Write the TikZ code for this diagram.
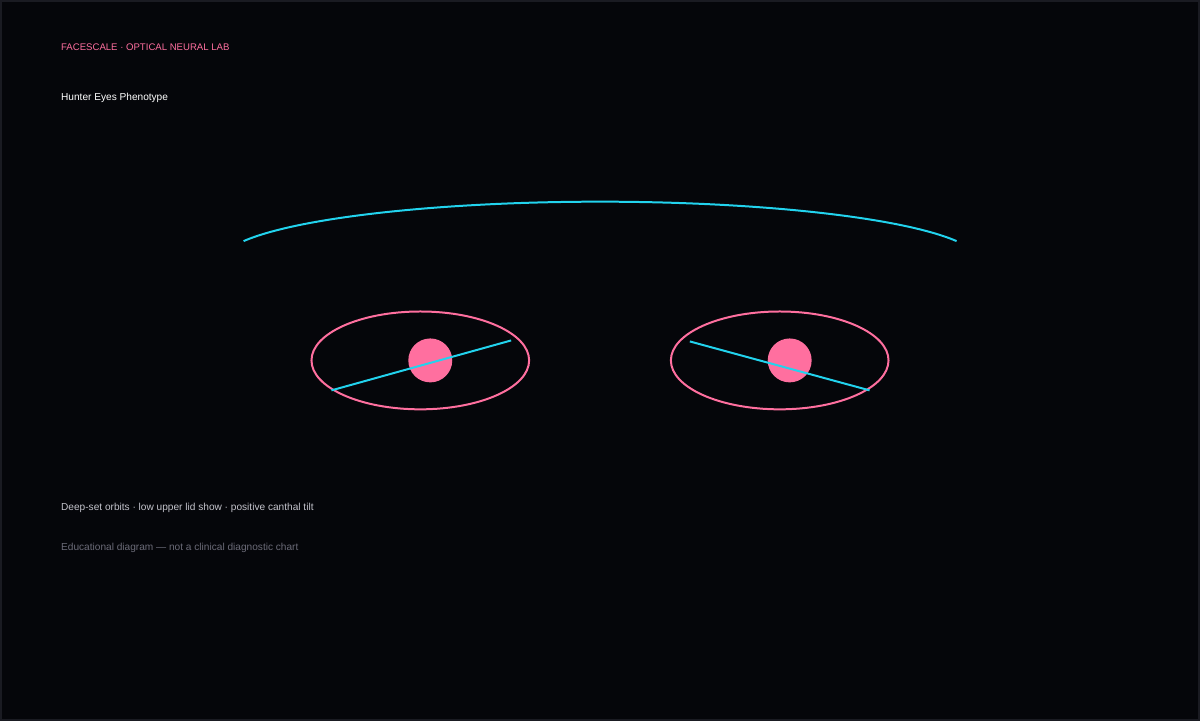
\documentclass[tikz,border=0pt]{standalone}
\usepackage{fontspec}
\setmainfont{Liberation Sans}
\definecolor{bgdark}{HTML}{05060A}
\definecolor{edgegray}{HTML}{1A1B22}
\definecolor{lidpink}{HTML}{FF6F9F}
\definecolor{tiltcyan}{HTML}{22D3EE}
\definecolor{softgray}{HTML}{C4C4CC}
\definecolor{dimgray}{HTML}{6B6B78}
\tikzset{
  caption/.style={anchor=base west, inner sep=0pt, font=\fontsize{7.6pt}{9pt}\selectfont},
  orbit/.style={draw=lidpink, line width=1.5pt},
  iris/.style={fill=lidpink, draw=none},
  tilt/.style={draw=tiltcyan, line width=1.5pt},
}
\begin{document}
\begin{tikzpicture}[x=0.75pt, y=-0.75pt]
\path[fill=bgdark, draw=edgegray, line width=1.5pt] (0,0) rectangle (1200,720);
\useasboundingbox (0,0) rectangle (1200,720);

% header
\node[caption, text=lidpink, font=\fontsize{7.2pt}{9pt}\selectfont] (lab) at (60,50) {FACESCALE · OPTICAL NEURAL LAB};
\node[caption, text=white] (title) at (60,100) {Hunter Eyes Phenotype};

% brow ridge
\coordinate (browL) at (243,240.5);
\path[tilt] (browL) arc[start angle=200, end angle=340, x radius=380, y radius=60];

% left eye
\draw[orbit] (420,360) ellipse [x radius=109, y radius=49];
\path[iris] (430,360) circle [radius=22];
\coordinate (tiltLa) at (331,390);
\coordinate (tiltLb) at (511,340);
\path[tilt] (tiltLa) -- (tiltLb);

% right eye
\draw[orbit] (780,360) ellipse [x radius=109, y radius=49];
\path[iris] (790,360) circle [radius=22];
\coordinate (tiltRa) at (690,341);
\coordinate (tiltRb) at (870,390);
\path[tilt] (tiltRa) -- (tiltRb);

% notes
\node[caption, text=softgray] (notes) at (60,510) {Deep-set orbits · low upper lid show · positive canthal tilt};
\node[caption, text=dimgray] (disclaimer) at (60,550) {Educational diagram — not a clinical diagnostic chart};
\end{tikzpicture}
\end{document}
